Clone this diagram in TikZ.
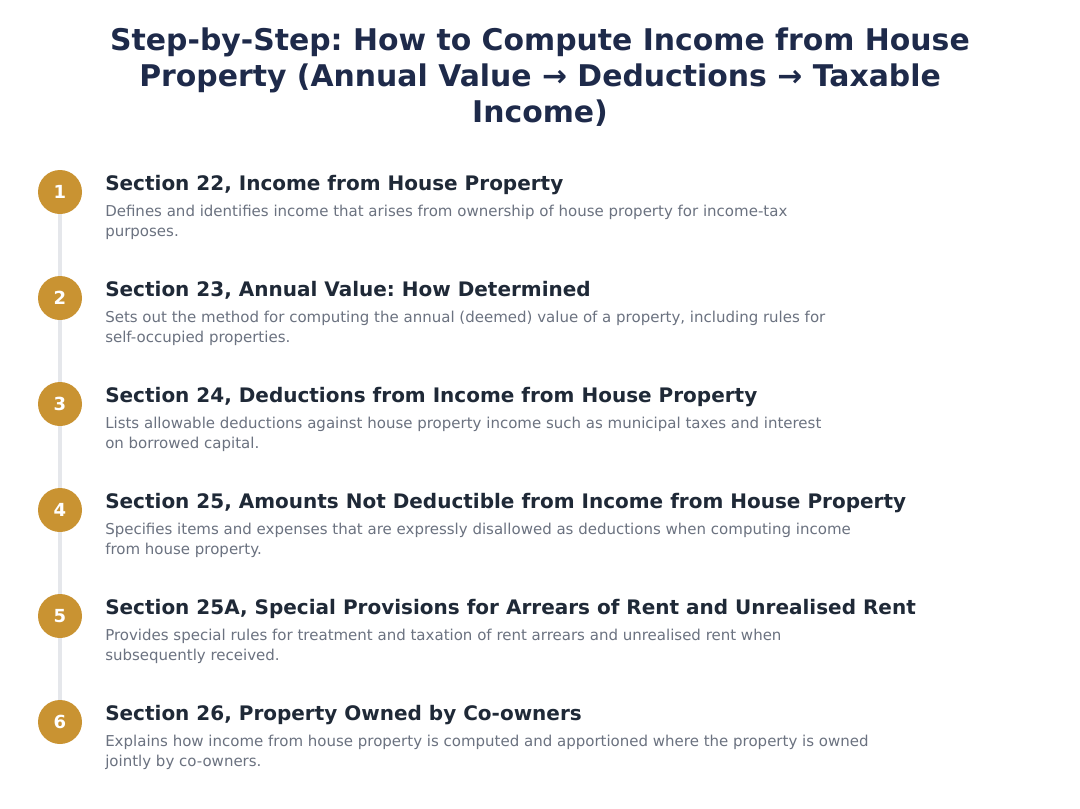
\documentclass[tikz,border=0pt]{standalone}
\usepackage{fontspec}
\setmainfont{DejaVu Sans}
\frenchspacing
\definecolor{titlec}{HTML}{1E2A4A}
\definecolor{headc}{HTML}{1F2937}
\definecolor{descc}{HTML}{6B7280}
\definecolor{gold}{HTML}{C99332}
\definecolor{linec}{HTML}{E5E7EB}
\tikzset{
  numdot/.style={circle,fill=gold,minimum size=33pt,inner sep=0pt,text=white,font=\bfseries\fontsize{13.5}{13.5}\selectfont},
  heading/.style={anchor=base west,inner sep=0pt,text=headc,font=\bfseries\fontsize{15}{17}\selectfont},
  desc/.style={anchor=base west,inner sep=0pt,text=descc,align=left,font=\fontsize{11.25}{15}\selectfont},
  titletext/.style={anchor=base,inner sep=0pt,text=titlec,align=center,font=\bfseries\fontsize{22.4}{27}\selectfont},
  rail/.style={draw=linec,line width=2.4pt}
}
\begin{document}
\begin{tikzpicture}[x=0.75pt,y=-0.75pt]
\useasboundingbox[fill=white] (0,0) rectangle (1080,808);
\node[titletext] (title) at (540,122) {Step-by-Step: How to Compute Income from House\\Property (Annual Value → Deductions → Taxable\\Income)};
\foreach \i/\y in {1/192,2/298,3/404,4/510,5/616,6/722}{
  \coordinate (c\i) at (60,\y);
}
\draw[rail] (c1) -- (c6);
\foreach \i in {1,...,6}{
  \node[numdot] (n\i) at (c\i) {\i};
}
\node[heading] (h1) at (105,190) {Section 22, Income from House Property};
\node[desc] (d1) at (105,236) {Defines and identifies income that arises from ownership of house property for income-tax\\purposes.};
\node[heading] (h2) at (105,296) {Section 23, Annual Value: How Determined};
\node[desc] (d2) at (105,342) {Sets out the method for computing the annual (deemed) value of a property, including rules for\\self-occupied properties.};
\node[heading] (h3) at (105,402) {Section 24, Deductions from Income from House Property};
\node[desc] (d3) at (105,448) {Lists allowable deductions against house property income such as municipal taxes and interest\\on borrowed capital.};
\node[heading] (h4) at (105,508) {Section 25, Amounts Not Deductible from Income from House Property};
\node[desc] (d4) at (105,554) {Specifies items and expenses that are expressly disallowed as deductions when computing income\\from house property.};
\node[heading] (h5) at (105,614) {Section 25A, Special Provisions for Arrears of Rent and Unrealised Rent};
\node[desc] (d5) at (105,660) {Provides special rules for treatment and taxation of rent arrears and unrealised rent when\\subsequently received.};
\node[heading] (h6) at (105,720) {Section 26, Property Owned by Co-owners};
\node[desc] (d6) at (105,766) {Explains how income from house property is computed and apportioned where the property is owned\\jointly by co-owners.};
\end{tikzpicture}
\end{document}
